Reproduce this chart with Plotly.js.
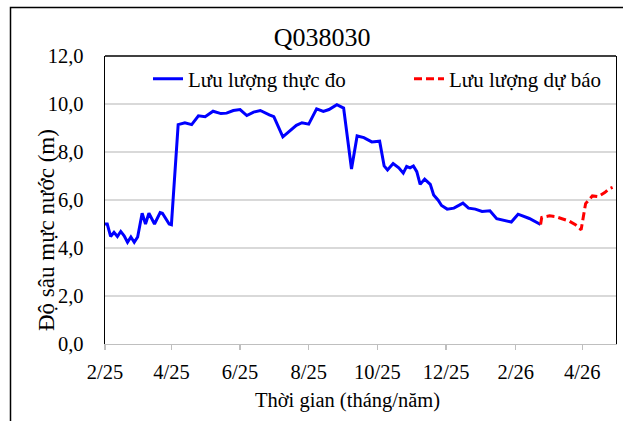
<!DOCTYPE html>
<html>
<head>
<meta charset="utf-8">
<script src="https://cdn.plot.ly/plotly-3.0.1.min.js"></script>
<style>html,body{margin:0;padding:0;background:#fff;}#chart{width:623px;height:421px;}</style>
</head>
<body>
<div id="chart"></div>
<script>
// Observed series (Lưu lượng thực đo)
var obsDates = ['2025-02-01','2025-02-03','2025-02-06','2025-02-09','2025-02-12','2025-02-15','2025-02-18','2025-02-21','2025-02-24','2025-02-27',
 '2025-03-02','2025-03-06','2025-03-09','2025-03-12','2025-03-17','2025-03-22','2025-03-24','2025-03-30','2025-04-01','2025-04-07',
 '2025-04-13','2025-04-19','2025-04-25','2025-05-01','2025-05-08','2025-05-15','2025-05-20','2025-05-26','2025-06-01','2025-06-07',
 '2025-06-13','2025-06-19','2025-06-27','2025-07-01','2025-07-09','2025-07-15','2025-07-21','2025-07-26','2025-08-01','2025-08-08',
 '2025-08-14','2025-08-19','2025-08-26','2025-09-01','2025-09-08','2025-09-13','2025-09-19','2025-09-26','2025-10-03','2025-10-07',
 '2025-10-10','2025-10-15','2025-10-20','2025-10-24','2025-10-27','2025-10-30','2025-11-02','2025-11-05','2025-11-08','2025-11-12',
 '2025-11-17','2025-11-20','2025-11-24','2025-11-27','2025-12-02','2025-12-08','2025-12-16','2025-12-21','2025-12-27','2026-01-02',
 '2026-01-09','2026-01-15','2026-01-22','2026-01-28','2026-02-03','2026-02-13','2026-02-23'];
var obsValues = [5.0,5.0,4.48,4.65,4.48,4.69,4.51,4.24,4.46,4.24,
 4.46,5.45,5.0,5.45,5.0,5.48,5.45,5.0,4.97,9.14,
 9.22,9.14,9.51,9.47,9.70,9.6,9.62,9.73,9.77,9.52,
 9.66,9.73,9.55,9.47,8.63,8.86,9.11,9.22,9.16,9.80,
 9.69,9.77,9.97,9.83,7.29,8.67,8.6,8.42,8.45,7.42,
 7.25,7.52,7.34,7.12,7.40,7.34,7.42,7.18,6.65,6.87,
 6.65,6.21,5.99,5.77,5.62,5.66,5.87,5.66,5.62,5.52,
 5.55,5.22,5.15,5.08,5.41,5.23,4.98];

// Forecast series (Lưu lượng dự báo)
var fcDates = ['2026-02-23','2026-02-24','2026-03-03','2026-03-08','2026-03-14','2026-03-20','2026-03-26','2026-03-31',
 '2026-04-04','2026-04-10','2026-04-15','2026-04-21','2026-04-25','2026-04-28'];
var fcValues = [4.98,5.27,5.34,5.31,5.22,5.13,4.97,4.76,5.85,6.17,6.14,6.31,6.47,6.53];

var seriesNames = ['Lưu lượng thực đo', 'Lưu lượng dự báo'];
var chartTitle = 'Q038030';
var xTitle = 'Thời gian (tháng/năm)';
var yTitle = 'Độ sâu mực nước (m)';
var xRange = ['2025-02-01', '2026-05-01'];
var yRange = [0, 12];

var FONT = 'Liberation Serif';

var traces = [
  {x: obsDates, y: obsValues, type: 'scatter', mode: 'lines', name: seriesNames[0], legend: 'legend',
   line: {color: '#0000FF', width: 3}},
  {x: fcDates, y: fcValues, type: 'scatter', mode: 'lines', name: seriesNames[1], legend: 'legend2',
   line: {color: '#FF0000', width: 3, dash: '8px,4px'}}
];

var legendFont = {family: FONT, size: 21, color: '#000'};
var tickFont = {family: FONT, size: 20.5, color: '#000'};

var layout = {
  width: 623, height: 421,
  margin: {l: 105, r: 7, t: 56, b: 77},
  paper_bgcolor: '#fff', plot_bgcolor: '#fff',
  separators: ', ',
  font: {family: FONT, size: 20, color: '#000'},
  title: {text: chartTitle, font: {family: FONT, size: 26, color: '#000'},
          xref: 'container', x: 0.517, xanchor: 'center', yref: 'container', y: 0.912, yanchor: 'middle'},
  showlegend: true,
  legend: {orientation: 'v', x: (148 - 105) / 511, xanchor: 'left', y: (344 - 79) / 288, yanchor: 'middle',
           bgcolor: 'rgba(255,255,255,0)', borderwidth: 0, font: legendFont},
  legend2: {orientation: 'v', x: (409 - 105) / 511, xanchor: 'left', y: (344 - 79) / 288, yanchor: 'middle',
           bgcolor: 'rgba(255,255,255,0)', borderwidth: 0, font: legendFont},
  xaxis: {type: 'date', range: xRange, tick0: '2025-02-01', dtick: 'M2', tickformat: '%-m/%y',
          showgrid: false, zeroline: false, showline: true, linecolor: '#bfbfbf', linewidth: 1.3,
          ticks: 'outside', ticklen: 5, tickcolor: '#bfbfbf', tickwidth: 1.3,
          ticklabelstandoff: 4, tickfont: tickFont},
  yaxis: {range: yRange, dtick: 2, tickformat: '.1f', showgrid: true, gridcolor: '#d9d9d9', gridwidth: 1.3,
          zeroline: false, showline: true, linecolor: '#000', linewidth: 1.3, mirror: true,
          ticks: '', ticklabelstandoff: 16, tickfont: tickFont},
  annotations: [
    {text: xTitle, xref: 'paper', yref: 'paper', x: (347 - 105) / 511, y: (344 - 400) / 288,
     xanchor: 'center', yanchor: 'middle', showarrow: false, font: {family: FONT, size: 20.5, color: '#000'}},
    {text: yTitle, xref: 'paper', yref: 'paper', x: (46 - 105) / 511, y: (344 - 230) / 288, textangle: -90,
     xanchor: 'center', yanchor: 'middle', showarrow: false, font: {family: FONT, size: 23, color: '#000'}}
  ],
  shapes: [
    {type: 'line', xref: 'paper', yref: 'paper', x0: 0, x1: 1, y0: 1, y1: 1,
     line: {color: '#000', width: 1.3}, layer: 'above'},
    {type: 'rect', xref: 'paper', yref: 'paper', x0: (10.5 - 105) / 511, x1: 1.2, y0: -0.5, y1: 1 + (56 - 7.5) / 288,
     line: {color: '#000', width: 1.5}, fillcolor: 'rgba(0,0,0,0)', layer: 'above'}
  ]
};

Plotly.newPlot('chart', traces, layout, {displayModeBar: false, staticPlot: true});
</script>
</body>
</html>
